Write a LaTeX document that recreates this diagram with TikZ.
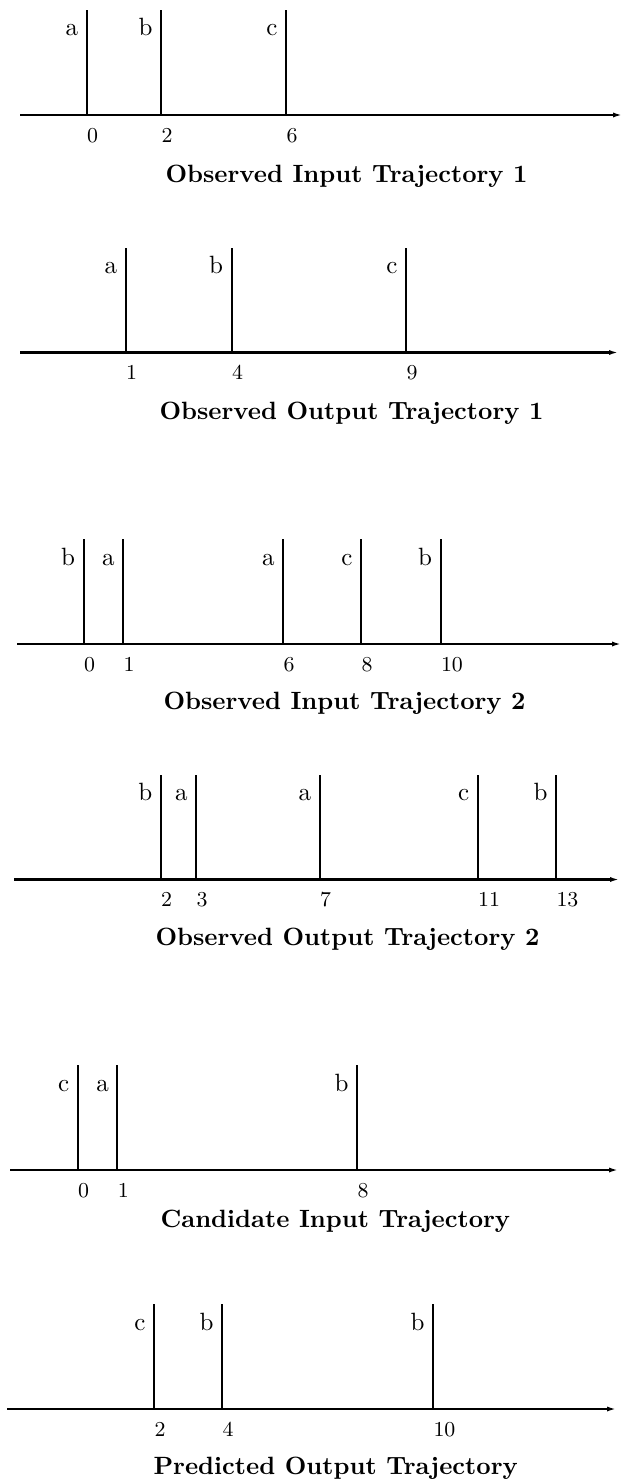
\documentclass[tikz,border=0pt]{standalone}
\usetikzlibrary{arrows.meta,calc}
\tikzset{
  axisline/.style={line width=0.9pt, -{Latex[length=4pt,width=2pt]}},
  spike/.style={line width=0.8pt},
  evlab/.style={inner sep=0pt, anchor=base east, font=\fontsize{10}{12}\selectfont},
  numlab/.style={inner sep=0pt, anchor=base west, font=\fontsize{8.5}{10}\selectfont},
  ttl/.style={inner sep=0pt, anchor=base west, font=\fontsize{10}{12}\selectfont\bfseries},
}
\newcommand{\trajpanel}[8]{%
  \coordinate (#1s) at (#3,#2);
  \coordinate (#1e) at (#4,#2);
  \draw[axisline] (#1s) -- (#1e);
  \foreach \x/\l/\n [count=\i] in {#5} {
    \coordinate (#1b\i) at (\x,#2);
    \coordinate (#1t\i) at ($(#1b\i)+(0,-105)$);
    \draw[spike] (#1b\i) -- (#1t\i);
    \node[evlab] (#1l\i) at ($(#1b\i)+(-8,-79)$) {\l};
    \node[numlab] (#1n\i) at ($(#1b\i)+(0,27)$) {\n};
  }
  \node[ttl] (#1title) at (#6,{#2+#8}) {#7};
}
\begin{document}
\begin{tikzpicture}[x=0.4pt,y=-0.4pt]
\useasboundingbox (0,0) rectangle (624,1479);
\trajpanel{A}{115}{20}{623}{86.7/a/0, 161/b/2, 286/c/6}{165}{Observed Input Trajectory 1}{67}
\trajpanel{B}{352.5}{20}{619}{125.7/a/1, 231.6/b/4, 406/c/9}{159}{Observed Output Trajectory 1}{67}
\trajpanel{C}{644}{17}{622}{83.6/b/0, 123/a/1, 283/a/6, 361/c/8, 440.5/b/10}{163}{Observed Input Trajectory 2}{65}
\trajpanel{D}{879.5}{14}{620}{160.7/b/2, 196/a/3, 319.5/a/7, 477.7/c/11, 556/b/13}{155}{Observed Output Trajectory 2}{66}
\trajpanel{E}{1170}{10}{619}{77.6/c/0, 117.4/a/1, 357/b/8}{160}{Candidate Input Trajectory}{57}
\trajpanel{F}{1409}{7}{617}{154/c/2, 222/b/4, 433/b/10}{153}{Predicted Output Trajectory}{65}
\end{tikzpicture}
\end{document}
